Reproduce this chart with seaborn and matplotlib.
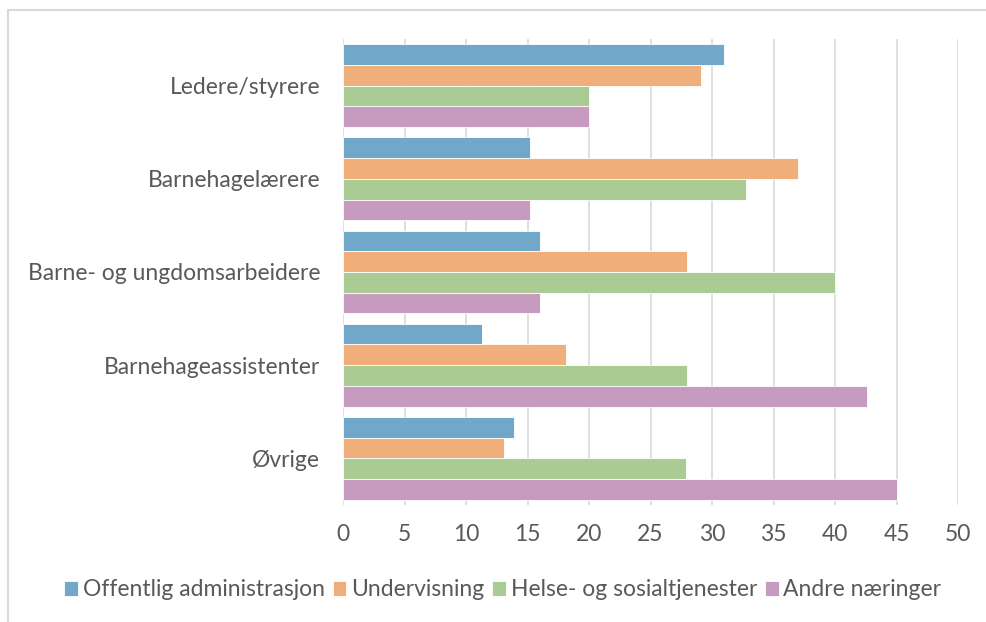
import matplotlib
matplotlib.use("Agg")
import matplotlib.pyplot as plt
import seaborn as sns
import pandas as pd
from matplotlib.lines import Line2D

categories = ["Ledere/styrere", "Barnehagelærere", "Barne- og ungdomsarbeidere",
              "Barnehageassistenter", "Øvrige"]
series = ["Offentlig administrasjon", "Undervisning", "Helse- og sosialtjenester", "Andre næringer"]
offentlig = [31.0, 15.2, 16.0, 11.3, 13.9]
undervisning = [29.1, 37.0, 28.0, 18.1, 13.1]
helse = [20.0, 32.8, 40.0, 28.0, 27.9]
andre = [20.0, 15.2, 16.0, 42.6, 45.0]
xticks = [0, 5, 10, 15, 20, 25, 30, 35, 40, 45, 50]
colors = ["#71A7C8", "#F0AE7B", "#ABCB94", "#C79BBF"]

rows = []
for s, vals in zip(series, [offentlig, undervisning, helse, andre]):
    for c, v in zip(categories, vals):
        rows.append({"cat": c, "series": s, "val": v})
df = pd.DataFrame(rows)

sns.set_theme(style="white")
plt.rcParams["font.family"] = ["Lato", "DejaVu Sans"]
text_color = "#595959"
fs = 16.5

fig = plt.figure(figsize=(9.86, 6.22), dpi=100)
ax = fig.add_axes([343/986, 1 - 505/622, (958-343)/986, (505-39)/622])

sns.barplot(data=df, y="cat", x="val", hue="series", orient="h", palette=colors,
            hue_order=series, order=categories, width=0.89, ax=ax, saturation=1,
            edgecolor="white", linewidth=0.6, errorbar=None, legend=True)

ax.set_xlim(0, 50)
ax.set_xticks(xticks)
ax.set_xticklabels([str(t) for t in xticks], fontsize=fs, color=text_color)
ax.tick_params(axis="y", labelsize=fs, labelcolor=text_color, length=0, pad=16.5)
ax.tick_params(axis="x", length=0, pad=14)
ax.set_xlabel("")
ax.set_ylabel("")
ax.xaxis.grid(True, color="#D9D9D9", linewidth=1.2)
ax.set_axisbelow(True)
for sp in ax.spines.values():
    sp.set_visible(False)

handles, labels = ax.get_legend_handles_labels()
ax.legend_.remove()
fig.legend(handles, labels, loc="center", bbox_to_anchor=(0.51, 1 - 590/622), ncol=4,
           frameon=False, fontsize=fs, handlelength=0.6, handleheight=0.6,
           handletextpad=0.2, columnspacing=0.35, labelcolor=text_color)

# light frame: left and top edges only
fig.lines.append(Line2D([8/986, 8/986], [0, 1 - 10/622], transform=fig.transFigure,
                        color="#D9D9D9", linewidth=1.5))
fig.lines.append(Line2D([8/986, 1], [1 - 10/622, 1 - 10/622], transform=fig.transFigure,
                        color="#D9D9D9", linewidth=1.5))

fig.savefig("out.png", dpi=100, facecolor="white")
